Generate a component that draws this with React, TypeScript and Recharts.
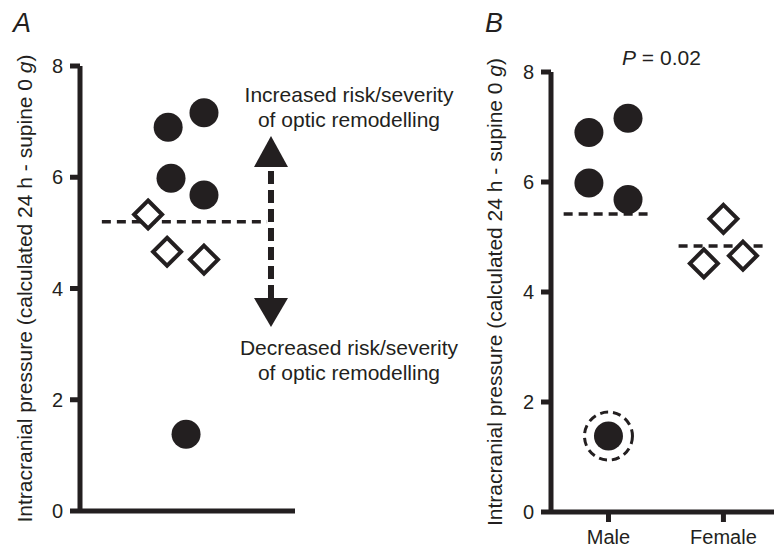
import React from "react";
import {
  ReferenceDot,
  ReferenceLine,
  Scatter,
  ScatterChart,
  XAxis,
  YAxis,
} from "recharts";

const INK = "#231f20";
const FONT = "'Liberation Sans', Arial, Helvetica, sans-serif";

// intracranial pressure per subject
const maleValues = [6.9, 7.16, 5.98, 5.68, 1.38];
const femaleValues = [5.33, 4.52, 4.66];
const outlierValue = 1.38;

// horizontal jitter of each point in panel A (axis runs 0..6)
const maleJitterA = [2.46, 3.46, 2.54, 3.46, 2.96];
const femaleJitterA = [1.9, 3.46, 2.43];
// panel B: Male = 1, Female = 2
const maleJitterB = [0.83, 1.17, 0.83, 1.17, 1.0];
const femaleJitterB = [2.0, 1.83, 2.17];

const groups = ["Male", "Female"];
const yTicks = [0, 2, 4, 6, 8];

const mean = (v: number[]) => v.reduce((a, b) => a + b, 0) / v.length;
const pooledMean = mean([...maleValues, ...femaleValues]);

const maleA = maleValues.map((y, i) => ({ x: maleJitterA[i], y }));
const femaleA = femaleValues.map((y, i) => ({ x: femaleJitterA[i], y }));
const maleB = maleValues.map((y, i) => ({ x: maleJitterB[i], y }));
const femaleB = femaleValues.map((y, i) => ({ x: femaleJitterB[i], y }));

const Disc = (p: any) => <circle cx={p.cx} cy={p.cy} r={14.5} fill={INK} />;

const Diamond = (p: any) => {
  const h = 14;
  return (
    <polygon
      points={`${p.cx},${p.cy - h} ${p.cx + h},${p.cy} ${p.cx},${p.cy + h} ${p.cx - h},${p.cy}`}
      fill="#fff"
      stroke={INK}
      strokeWidth={4}
    />
  );
};

const ArrowUp = (p: any) => (
  <polygon
    points={`${p.cx},${p.cy} ${p.cx + 17},${p.cy + 31} ${p.cx - 17},${p.cy + 31}`}
    fill={INK}
  />
);

const ArrowDown = (p: any) => (
  <polygon
    points={`${p.cx},${p.cy} ${p.cx + 17},${p.cy - 29} ${p.cx - 17},${p.cy - 29}`}
    fill={INK}
  />
);

const yLabel = (offset: number) => (props: any) => {
  const vb = props.viewBox || { x: 0, y: 0, height: 0 };
  const x = vb.x + offset;
  const cy = vb.y + vb.height / 2;
  return (
    <text
      x={x}
      y={cy}
      transform={`rotate(-90 ${x} ${cy})`}
      textAnchor="middle"
      fill={INK}
      fontSize={21}
      fontFamily={FONT}
    >
      Intracranial pressure (calculated 24 h - supine 0 <tspan fontStyle="italic">g</tspan>)
    </text>
  );
};

const axisLine = { stroke: INK, strokeWidth: 5 };
const tickStyle = { fill: INK, fontSize: 20, fontFamily: FONT };
const dash = { stroke: INK, strokeWidth: 3.5, strokeDasharray: "9 6" };

function PanelA() {
  return (
    <ScatterChart width={465} height={548} margin={{ top: 66, right: 170, bottom: 7, left: 0 }}>
      <XAxis
        type="number"
        dataKey="x"
        domain={[0, 6]}
        tick={false}
        tickLine={false}
        axisLine={axisLine}
        height={30}
      />
      <YAxis
        type="number"
        dataKey="y"
        domain={[0, 8]}
        ticks={yTicks}
        width={80}
        tickSize={10}
        tickMargin={7}
        tickLine={axisLine}
        axisLine={axisLine}
        tick={tickStyle}
        label={yLabel(32)}
      />
      <Scatter data={maleA} shape={Disc} isAnimationActive={false} />
      <Scatter data={femaleA} shape={Diamond} isAnimationActive={false} />
      <ReferenceLine
        segment={[
          { x: 0.61, y: pooledMean },
          { x: 5.22, y: pooledMean },
        ]}
        {...dash}
      />
      <ReferenceLine
        segment={[
          { x: 5.33, y: 3.83 },
          { x: 5.33, y: 6.19 },
        ]}
        stroke={INK}
        strokeWidth={6}
        strokeDasharray="13 6"
      />
      <ReferenceDot x={5.33} y={6.74} shape={ArrowUp} />
      <ReferenceDot x={5.33} y={3.31} shape={ArrowDown} />
    </ScatterChart>
  );
}

function PanelB() {
  return (
    <ScatterChart width={314} height={548} margin={{ top: 72, right: 0, bottom: 6, left: 0 }}>
      <XAxis
        type="number"
        dataKey="x"
        domain={[0.5, 2.44]}
        allowDataOverflow
        ticks={[1, 2]}
        tickFormatter={(v: number) => groups[v - 1]}
        tickSize={10}
        tickMargin={8}
        tickLine={axisLine}
        axisLine={axisLine}
        tick={tickStyle}
        height={30}
      />
      <YAxis
        type="number"
        dataKey="y"
        domain={[0, 8]}
        ticks={yTicks}
        width={91}
        tickSize={10}
        tickMargin={7}
        tickLine={axisLine}
        axisLine={axisLine}
        tick={tickStyle}
        label={yLabel(42)}
      />
      <ReferenceDot
        x={1}
        y={outlierValue}
        r={24}
        fill="none"
        stroke={INK}
        strokeWidth={3}
        strokeDasharray="8 5"
      />
      <Scatter data={maleB} shape={Disc} isAnimationActive={false} />
      <Scatter data={femaleB} shape={Diamond} isAnimationActive={false} />
      <ReferenceLine
        segment={[
          { x: 0.61, y: mean(maleValues) },
          { x: 1.34, y: mean(maleValues) },
        ]}
        {...dash}
      />
      <ReferenceLine
        segment={[
          { x: 1.61, y: mean(femaleValues) },
          { x: 2.35, y: mean(femaleValues) },
        ]}
        {...dash}
      />
    </ScatterChart>
  );
}

export default function App() {
  return (
    <div
      style={{
        position: "absolute",
        left: 0,
        top: 0,
        width: 774,
        height: 548,
        background: "#fff",
        fontFamily: FONT,
        overflow: "hidden",
      }}
    >
      <div style={{ position: "absolute", left: 0, top: 0 }}>
        <PanelA />
      </div>
      <div style={{ position: "absolute", left: 460, top: 0 }}>
        <PanelB />
      </div>
      <svg
        width={774}
        height={548}
        style={{ position: "absolute", left: 0, top: 0, pointerEvents: "none" }}
        fontFamily={FONT}
        fill={INK}
      >
        <text x={13} y={32} fontSize={27} fontStyle="italic">A</text>
        <text x={485} y={32} fontSize={27} fontStyle="italic">B</text>
        <text x={622} y={65} fontSize={21}>
          <tspan fontStyle="italic">P</tspan> = 0.02
        </text>
        <g fontSize={21} textAnchor="middle">
          <text x={349} y={102}>Increased risk/severity</text>
          <text x={349} y={127}>of optic remodelling</text>
          <text x={349} y={355}>Decreased risk/severity</text>
          <text x={349} y={380}>of optic remodelling</text>
        </g>
      </svg>
    </div>
  );
}
